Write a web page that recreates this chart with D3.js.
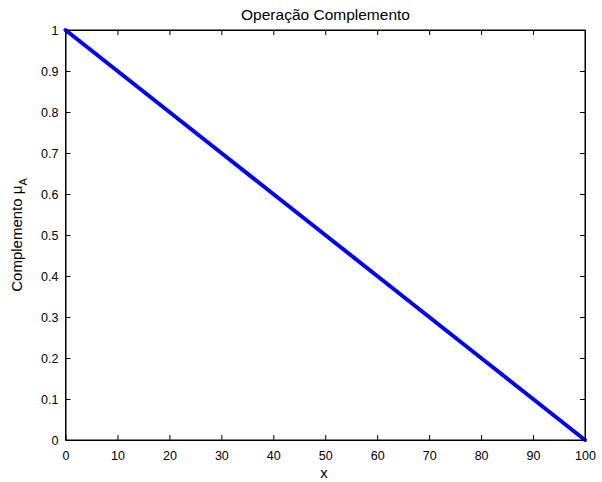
<!DOCTYPE html>
<html><head><meta charset="utf-8">
<script src="https://cdn.jsdelivr.net/npm/d3@7"></script>
<style>body{margin:0;background:#fff}svg{display:block}text{font-family:"Liberation Sans",Arial,Helvetica,sans-serif}</style>
</head><body>
<svg id="c" width="602" height="482"></svg>
<script>
const xValues = [0, 10, 20, 30, 40, 50, 60, 70, 80, 90, 100];
const yValues = [1, 0.9, 0.8, 0.7, 0.6, 0.5, 0.4, 0.3, 0.2, 0.1, 0];
const xTicks = [0, 10, 20, 30, 40, 50, 60, 70, 80, 90, 100];
const yTicks = [0, 0.1, 0.2, 0.3, 0.4, 0.5, 0.6, 0.7, 0.8, 0.9, 1];
const title = "Operação Complemento";
const xLabel = "x";

const svg = d3.select("#c");
const L = 65.5, R = 585, T = 30, B = 440;
const x = d3.scaleLinear().domain([0, 100]).range([L, R]);
const y = d3.scaleLinear().domain([0, 1]).range([B, T]);
const fs = 12.5, lfs = 15, tl = 5;

// axes
const gx = svg.append("g").attr("transform", `translate(0,${B})`)
  .call(d3.axisBottom(x).tickValues(xTicks).tickFormat(d3.format("d")).tickSizeInner(-tl).tickSizeOuter(0).tickPadding(11));
const gxt = svg.append("g").attr("transform", `translate(0,${T})`)
  .call(d3.axisTop(x).tickValues(xTicks).tickFormat("").tickSizeInner(-tl).tickSizeOuter(0));
const gy = svg.append("g").attr("transform", `translate(${L},0)`)
  .call(d3.axisLeft(y).tickValues(yTicks).tickFormat(d => d3.format("~g")(d)).tickSizeInner(-tl).tickSizeOuter(0).tickPadding(7));
const gyr = svg.append("g").attr("transform", `translate(${R},0)`)
  .call(d3.axisRight(y).tickValues(yTicks).tickFormat("").tickSizeInner(-tl).tickSizeOuter(0));
[gx, gxt, gy, gyr].forEach(g => {
  g.selectAll("path.domain").attr("stroke", "#000").attr("stroke-width", 1);
  g.selectAll(".tick line").attr("stroke", "#000");
  g.selectAll("text").attr("font-size", fs).attr("fill", "#000")
    .style("font-family", '"Liberation Sans",Arial,sans-serif');
});

// line
const line = d3.line().x((d, i) => x(xValues[i])).y(d => y(d));
svg.append("path").datum(yValues).attr("d", line)
  .attr("fill", "none").attr("stroke", "#0000ff").attr("stroke-width", 4).attr("stroke-linecap", "round");

// redraw frame on top
svg.append("rect").attr("x", L).attr("y", T).attr("width", R - L).attr("height", B - T)
  .attr("fill", "none").attr("stroke", "#000").attr("stroke-width", 1);

// texts
svg.append("text").attr("x", 325.5).attr("y", 19.5).attr("text-anchor", "middle")
  .attr("font-size", 15.5).text(title);
svg.append("text").attr("x", 324).attr("y", 478).attr("text-anchor", "middle")
  .attr("font-size", lfs).text(xLabel);
const yl = svg.append("text").attr("transform", `translate(22,235) rotate(-90)`)
  .attr("text-anchor", "middle").attr("font-size", lfs);
yl.append("tspan").text("Complemento μ");
yl.append("tspan").attr("font-size", 11).attr("dy", 5).text("A");
</script>
</body></html>
